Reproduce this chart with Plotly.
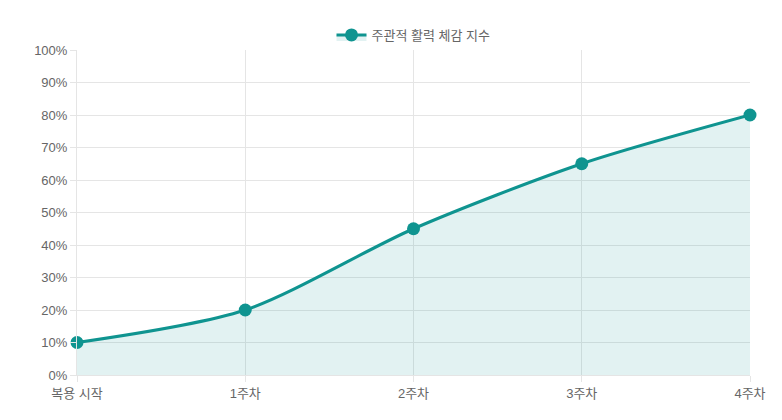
import plotly.graph_objects as go

weeks = ['복용 시작', '1주차', '2주차', '3주차', '4주차']
vitality = [10, 20, 45, 65, 80]
series_name = '주관적 활력 체감 지수'

line_color = '#0f9490'
fill_color = 'rgba(15,148,144,0.12)'

trace = go.Scatter(
    x=weeks,
    y=vitality,
    name=series_name,
    mode='lines+markers',
    line=dict(color=line_color, width=3, shape='spline', smoothing=0.8),
    marker=dict(size=13, color=line_color),
    fill='tozeroy',
    fillcolor=fill_color,
    cliponaxis=False,
)

fig = go.Figure(data=[trace])
fig.update_layout(
    width=782, height=420,
    margin=dict(l=69, r=40, t=42, b=53, autoexpand=False),
    paper_bgcolor='white', plot_bgcolor='white',
    font=dict(family='Liberation Sans, Noto Sans CJK KR, sans-serif', size=13, color='#666'),
    showlegend=True,
    legend=dict(orientation='h', x=0.5, xanchor='center', y=1.0, yanchor='bottom',
                font=dict(size=13, color='#666')),
)
fig.update_xaxes(showgrid=True, gridcolor='#e5e5e5', zeroline=False,
                 showline=True, linecolor='#e5e5e5', ticks='outside',
                 tickcolor='#e5e5e5', ticklen=6, range=[0, 4], automargin=False)
fig.update_yaxes(range=[0, 100], dtick=10, ticksuffix='%', showgrid=True,
                 gridcolor='#e5e5e5', zeroline=False, showline=True,
                 linecolor='#e5e5e5', ticks='outside', tickcolor='#e5e5e5', ticklen=6,
                 automargin=False)

fig.write_html('out.html')
